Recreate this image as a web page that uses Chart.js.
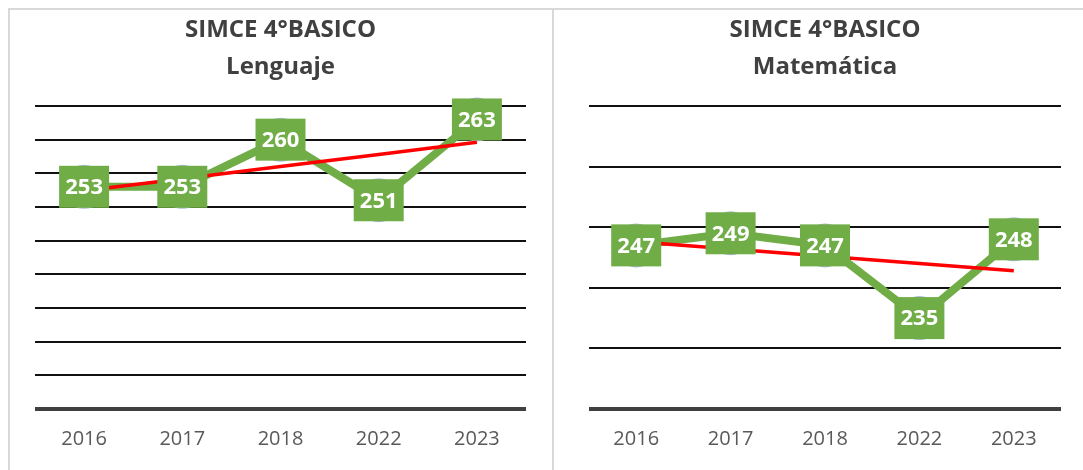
<!DOCTYPE html>
<html>
<head>
<meta charset="utf-8">
<script src="https://cdn.jsdelivr.net/npm/chart.js@4.4.1/dist/chart.umd.min.js"></script>
<style>
  body { margin: 0; background: #fff; width: 1083px; height: 470px; overflow: hidden; position: relative; }
  .frame { position: absolute; background: #d9d9d9; }
  .box { position: absolute; top: 10px; height: 460px; }
</style>
</head>
<body>
<div class="frame" style="left:8px;top:8px;width:1075px;height:2px"></div>
<div class="frame" style="left:8px;top:8px;width:2px;height:462px"></div>
<div class="frame" style="left:552px;top:8px;width:2px;height:462px"></div>
<div class="box" style="left:10px;width:541px"><canvas id="lenguaje"></canvas></div>
<div class="box" style="left:567px;width:516px"><canvas id="matematica"></canvas></div>

<script>
// data
const years = ['2016', '2017', '2018', '2022', '2023'];
const lenguaje = [253, 253, 260, 251, 263];
const matematica = [247, 249, 247, 235, 248];
const lenguajeAxis = { min: 220, max: 265, step: 5 };
const matematicaAxis = { min: 220, max: 270, step: 10 };

const FONT = '"Open Sans", sans-serif';

// linear trend line, like Excel's
function trend(values) {
  const n = values.length;
  const mx = (n - 1) / 2;
  const my = values.reduce((a, b) => a + b, 0) / n;
  let num = 0, den = 0;
  values.forEach((v, i) => { num += (i - mx) * (v - my); den += (i - mx) * (i - mx); });
  const slope = num / den;
  return values.map((v, i) => my + slope * (i - mx));
}

// green value boxes drawn on each point
const boxLabels = {
  id: 'boxLabels',
  afterDatasetsDraw(chart) {
    const ctx = chart.ctx;
    const meta = chart.getDatasetMeta(0);
    const values = chart.data.datasets[0].data;
    ctx.save();
    ctx.font = 'bold 22px ' + FONT;
    ctx.textAlign = 'center';
    ctx.textBaseline = 'middle';
    meta.data.forEach((pt, i) => {
      ctx.fillStyle = '#70AD47';
      ctx.fillRect(pt.x - 25, pt.y - 21, 50, 42);
      ctx.fillStyle = '#ffffff';
      ctx.fillText(values[i], pt.x, pt.y + 1);
    });
    ctx.restore();
  }
};

function makeChart(id, subject, values, axis, sidePad) {
  new Chart(document.getElementById(id), {
    type: 'line',
    data: {
      labels: years,
      datasets: [
        {
          data: values,
          order: 2,
          borderColor: '#70AD47',
          borderWidth: 8,
          pointRadius: 22,
          pointBackgroundColor: '#a9bcd4',
          pointBorderWidth: 0,
          tension: 0,
          clip: false
        },
        {
          data: trend(values),
          order: 1,
          borderColor: '#FF0000',
          borderWidth: 3.5,
          pointRadius: 0,
          tension: 0,
          clip: false
        }
      ]
    },
    options: {
      responsive: true,
      maintainAspectRatio: false,
      animation: false,
      layout: { padding: { left: sidePad, right: sidePad, top: 0, bottom: 1 } },
      plugins: {
        legend: { display: false },
        tooltip: { enabled: false },
        title: {
          display: true,
          text: ['SIMCE 4°BASICO', subject],
          color: '#404040',
          font: { family: FONT, size: 24, weight: 'bold', lineHeight: 37 / 24 },
          padding: { top: 2, bottom: 20 }
        }
      },
      scales: {
        x: {
          offset: true,
          grid: { display: false, drawTicks: false },
          border: { display: false },
          ticks: { color: '#595959', padding: 18, font: { family: FONT, size: 20 } }
        },
        y: {
          min: axis.min,
          max: axis.max,
          border: { display: false },
          ticks: { display: false, stepSize: axis.step },
          grid: {
            drawTicks: false,
            color: c => c.tick && c.tick.value === axis.min ? '#404040' : '#111111',
            lineWidth: c => c.tick && c.tick.value === axis.min ? 4 : 2
          }
        }
      }
    },
    plugins: [boxLabels]
  });
}

makeChart('lenguaje', 'Lenguaje', lenguaje, lenguajeAxis, 25);
makeChart('matematica', 'Matemática', matematica, matematicaAxis, 13);
</script>
</body>
</html>
